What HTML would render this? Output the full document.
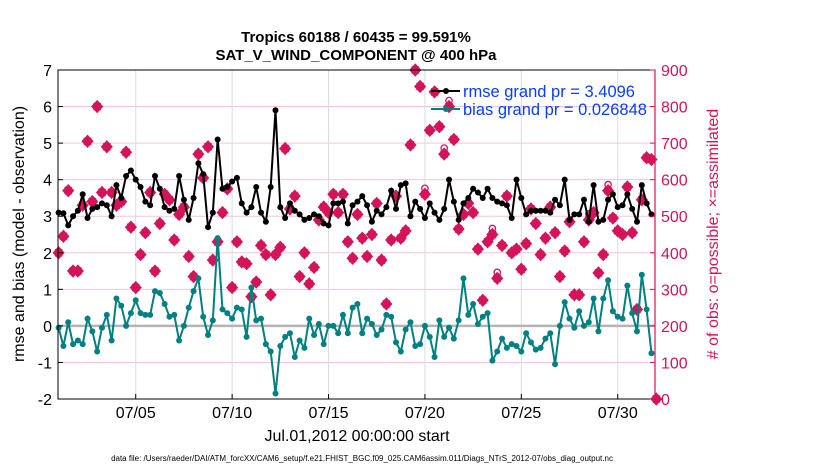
<!DOCTYPE html>
<html><head><meta charset="utf-8"><style>
body{margin:0;background:#fff;width:830px;height:470px;overflow:hidden;font-family:"Liberation Sans",sans-serif}
</style></head><body>
<svg id="chart" width="830" height="470" xmlns="http://www.w3.org/2000/svg" font-family="Liberation Sans, sans-serif">
<rect width="830" height="470" fill="#fff"/>
<g id="grid"></g><g id="marks"></g><g id="axes"></g>
<text x="356" y="42" font-size="15" font-weight="bold" text-anchor="middle">Tropics 60188 / 60435 = 99.591%</text>
<text x="356" y="60" font-size="15" font-weight="bold" text-anchor="middle">SAT_V_WIND_COMPONENT @ 400 hPa</text>
<text transform="translate(24,234) rotate(-90)" font-size="16" text-anchor="middle">rmse and bias (model - observation)</text>
<text transform="translate(718,234) rotate(-90)" font-size="16" fill="#d4145a" text-anchor="middle"># of obs: o=possible; ×=assimilated</text>
<text x="357" y="441" font-size="16" text-anchor="middle">Jul.01,2012 00:00:00 start</text>
<text x="362" y="461" font-size="8" text-anchor="middle">data file: /Users/raeder/DAI/ATM_forcXX/CAM6_setup/f.e21.FHIST_BGC.f09_025.CAM6assim.011/Diags_NTrS_2012-07/obs_diag_output.nc</text>
<g id="legend">
<line x1="431" y1="91" x2="460" y2="91" stroke="#000" stroke-width="2"/><circle cx="446" cy="91" r="3" fill="#000"/>
<text x="463" y="97" font-size="16.5" fill="#0a3cff">rmse grand pr = 3.4096</text>
<line x1="431" y1="109" x2="460" y2="109" stroke="#008080" stroke-width="2"/><circle cx="446" cy="109" r="3" fill="#008080"/>
<text x="463" y="115" font-size="16.5" fill="#0a3cff">bias grand pr = 0.026848</text>
</g>
</svg>
<script>
const rmse=[3.1,3.08,2.75,3.0,3.15,3.6,2.95,3.2,3.25,3.35,3.3,3.0,3.85,3.5,4.1,4.25,4.0,3.8,3.4,3.3,4.1,3.75,3.25,3.15,3.2,4.1,3.45,2.9,3.5,4.45,4.15,2.7,3.1,5.1,3.75,3.8,3.95,4.05,3.35,3.1,3.25,3.8,3.1,2.85,3.8,5.9,3.25,2.95,3.35,3.15,3.05,2.9,2.95,3.05,3.0,2.8,2.75,3.35,3.35,3.4,2.8,3.3,3.4,3.55,3.3,2.85,3.15,3.05,3.25,3.7,3.2,3.85,3.9,3.0,3.4,3.2,2.95,3.35,3.1,2.9,3.2,4.0,3.4,2.9,3.35,3.5,3.75,3.65,3.5,3.75,3.5,3.4,3.35,3.3,2.95,4.0,3.5,3.05,3.15,3.15,3.15,3.15,3.1,3.45,3.3,4.0,2.9,3.05,3.05,3.45,2.85,3.85,2.85,2.9,3.45,3.6,3.25,3.3,3.6,3.2,2.85,3.85,3.35,3.05];
const bias=[-0.05,-0.55,0.1,-0.5,-0.4,-0.5,0.2,-0.15,-0.7,-0.05,0.3,-0.4,0.75,0.55,0.0,0.35,0.7,0.35,0.3,0.3,0.95,0.9,0.6,0.25,0.3,-0.4,0.0,0.5,0.95,1.3,0.25,-0.25,0.15,2.4,0.45,0.35,0.2,0.5,0.45,-0.3,1.05,0.15,0.2,-0.5,-0.7,-1.85,-0.55,-0.3,-0.2,-0.85,-0.4,-0.6,0.2,-0.25,0.05,-0.5,0.0,0.0,-0.2,0.3,-0.2,0.5,0.6,-0.2,0.2,0.05,-0.25,-0.1,0.3,0.25,-0.45,-0.7,-0.1,0.1,-0.55,-0.5,0.0,-0.3,-0.85,0.15,-0.3,-0.05,-0.35,0.15,1.3,0.3,0.6,0.05,0.25,0.35,-0.95,-0.7,-0.35,-0.6,-0.5,-0.55,-0.7,-0.2,-0.45,-0.65,-0.6,-0.35,-0.2,-1.05,0.0,0.65,0.2,-0.05,0.4,0.0,0.1,0.75,-0.15,0.75,1.25,0.4,0.25,0.2,1.1,0.35,-0.15,1.4,0.45,-0.75];
const assim=[400,445,570,350,350,530,705,540,800,565,690,565,530,540,675,470,305,395,455,565,350,480,560,545,435,505,525,390,335,670,605,690,380,430,510,575,305,430,375,370,280,320,420,395,285,395,415,685,520,555,335,400,315,360,490,525,510,560,510,560,430,385,505,440,390,450,535,380,260,435,555,440,460,695,900,855,560,735,840,745,670,800,710,465,505,535,510,410,270,430,450,330,420,555,400,410,355,425,520,480,395,440,525,455,335,405,485,285,285,430,490,510,345,395,570,495,460,450,580,455,245,545,660,655,0];
const possibleIdx=[76,80,81,90,91,110,114];
const ticksL=[-2,-1,0,1,2,3,4,5,6,7];
const ticksR=[0,100,200,300,400,500,600,700,800,900];
const xTickDays=[5,10,15,20,25,30];
const xTickLabels=["07/05","07/10","07/15","07/20","07/25","07/30"];
const X0=58.6,XW=19.28,Y0=399,YT=70;
const xs=d=>X0+(d-1)*XW;
const xi=i=>xs(1+i*0.25);
const yL=v=>Y0-(v+2)*(Y0-YT)/9;
const yR=c=>Y0-c*(Y0-YT)/900;
const NS="http://www.w3.org/2000/svg";
function mk(p,t,a){const e=document.createElementNS(NS,t);for(const k in a)e.setAttribute(k,a[k]);p.appendChild(e);return e;}
const G=document.getElementById('grid'),M=document.getElementById('marks'),A=document.getElementById('axes');
ticksR.forEach(c=>{const l=mk(G,'line',{x1:58,x2:655,y1:yR(c),y2:yR(c),stroke:'#f3c6d6','stroke-width':1});

});
xTickDays.forEach(d=>{const l=mk(G,'line',{x1:xs(d),x2:xs(d),y1:YT,y2:Y0,stroke:'#dcdcdc','stroke-width':1});

});
const zl=mk(G,'line',{x1:58,x2:655,y1:yL(0),y2:yL(0),stroke:'#b4b4b4','stroke-width':2.5});


assim.forEach((c,i)=>{const x=xi(i),y=yR(c);
if(possibleIdx.includes(i)){const o=mk(M,'circle',{cx:x,cy:y-6,r:3.2,fill:'none',stroke:'#d4145a','stroke-width':1.3});

}
const p=mk(M,'path',{d:`M${x} ${y-5.5}L${x+5} ${y}L${x} ${y+5.5}L${x-5} ${y}Z M${x-3.5} ${y-3.5}L${x+3.5} ${y+3.5}M${x+3.5} ${y-3.5}L${x-3.5} ${y+3.5}`,fill:'#d4145a',stroke:'#d4145a','stroke-width':1.6});

});
function series(arr,col,name){
const pl=mk(M,'polyline',{points:arr.map((v,i)=>xi(i)+','+yL(v)).join(' '),fill:'none',stroke:col,'stroke-width':2});


arr.forEach((v,i)=>{const c=mk(M,'circle',{cx:xi(i),cy:yL(v),r:3,fill:col});

});}
series(rmse,'#000','rmse');
series(bias,'#008080','bias');
const box=mk(A,'rect',{x:58,y:YT,width:597,height:Y0-YT,fill:'none',stroke:'#000','stroke-width':1});


const ra=mk(A,'line',{x1:655,x2:655,y1:YT,y2:Y0,stroke:'#d4145a','stroke-width':1.2});


ticksL.forEach(v=>{mk(A,'line',{x1:58,x2:63,y1:yL(v),y2:yL(v),stroke:'#000'});
const t=mk(A,'text',{x:52,y:yL(v)+6,'font-size':16,'text-anchor':'end'});t.textContent=v;

});
ticksR.forEach(c=>{mk(A,'line',{x1:650,x2:655,y1:yR(c),y2:yR(c),stroke:'#d4145a'});
const t=mk(A,'text',{x:661,y:yR(c)+6,'font-size':16,fill:'#d4145a'});t.textContent=c;

});
xTickDays.forEach((d,k)=>{mk(A,'line',{x1:xs(d),x2:xs(d),y1:Y0,y2:Y0-5,stroke:'#000'});
const t=mk(A,'text',{x:xs(d),y:418,'font-size':16,'text-anchor':'middle'});t.textContent=xTickLabels[k];

});
</script>
</body></html>
